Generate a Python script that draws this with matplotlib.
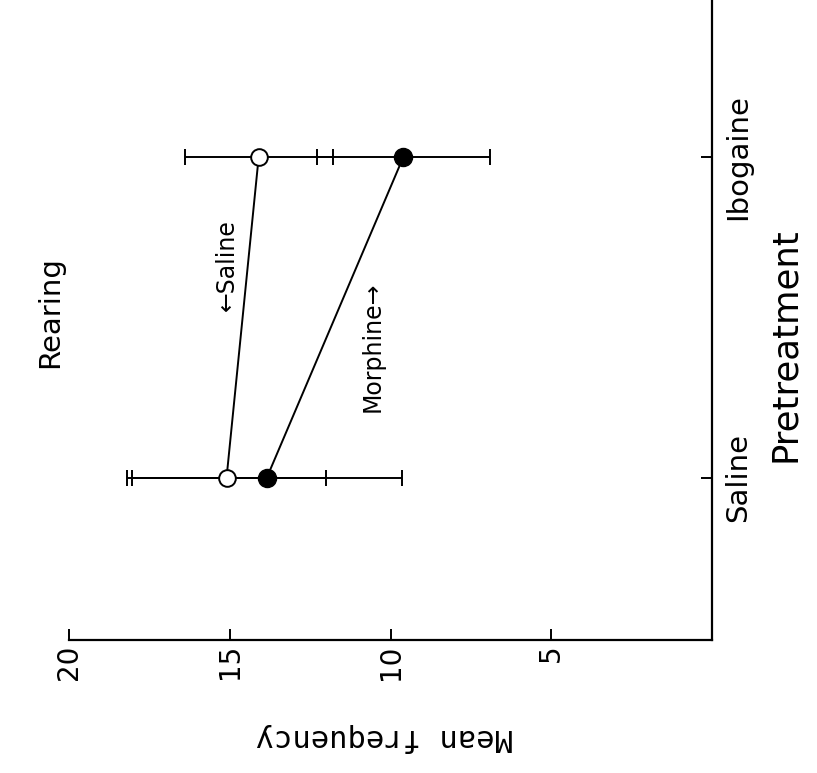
import matplotlib
matplotlib.use("Agg")
import matplotlib.pyplot as plt

# figure is drawn already turned on its side: value axis runs along the bottom
pretreatment = ["Saline", "Ibogaine"]
cat_pos = [0, 1]
saline_mean = [15.1, 14.1]
saline_err = [3.1, 2.3]
morphine_mean = [13.85, 9.6]
morphine_err = [4.2, 2.7]
value_ticks = [20, 15, 10, 5]

fig = plt.figure(figsize=(8.17, 7.73), dpi=100)
ax = fig.add_axes([69 / 817, 1 - 640 / 773, 643 / 817, 640 / 773])

ax.errorbar(saline_mean, cat_pos, xerr=saline_err, color="k", lw=1.4,
            marker="o", ms=12, mfc="white", mec="k", mew=1.4,
            capsize=5.5, capthick=1.4, elinewidth=1.4, zorder=3)
ax.errorbar(morphine_mean, cat_pos, xerr=morphine_err, color="k", lw=1.4,
            marker="o", ms=13, mfc="k", mec="k",
            capsize=5.5, capthick=1.4, elinewidth=1.4, zorder=3)

ax.set_xlim(20, 0)
ax.set_ylim(-0.505, 1.489)

for s in ["left", "top"]:
    ax.spines[s].set_visible(False)
for s in ["bottom", "right"]:
    ax.spines[s].set_linewidth(1.6)

ax.set_xticks(value_ticks)
ax.set_xticklabels([str(v) for v in value_ticks], rotation=90,
                   fontsize=20, va="top", ha="center")
ax.tick_params(axis="x", direction="in", length=8, width=1.4, pad=3)

ax.yaxis.tick_right()
ax.set_yticks(cat_pos)
ax.set_yticklabels(pretreatment, rotation=90, va="center", fontsize=21)
ax.tick_params(axis="y", direction="in", length=8, width=1.4, pad=9)

ax.text(0.491, -0.152, "Mean frequency", transform=ax.transAxes,
        rotation=180, ha="center", va="center", fontsize=22,
        family="DejaVu Sans Mono", clip_on=False)
ax.text(1.1135, 0.461, "Pretreatment", transform=ax.transAxes,
        rotation=90, ha="center", va="center", fontsize=25.5,
        clip_on=False)
ax.text(-0.0295, 0.5125, "Rearing", transform=ax.transAxes,
        rotation=90, ha="center", va="center", fontsize=21, clip_on=False)

ax.text(15.1, 0.664, "\u2190Saline", rotation=90, ha="center", va="center",
        fontsize=17)
ax.text(10.55, 0.408, "Morphine\u2192", rotation=90, ha="center",
        va="center", fontsize=17)

fig.savefig("out.png", dpi=100)
